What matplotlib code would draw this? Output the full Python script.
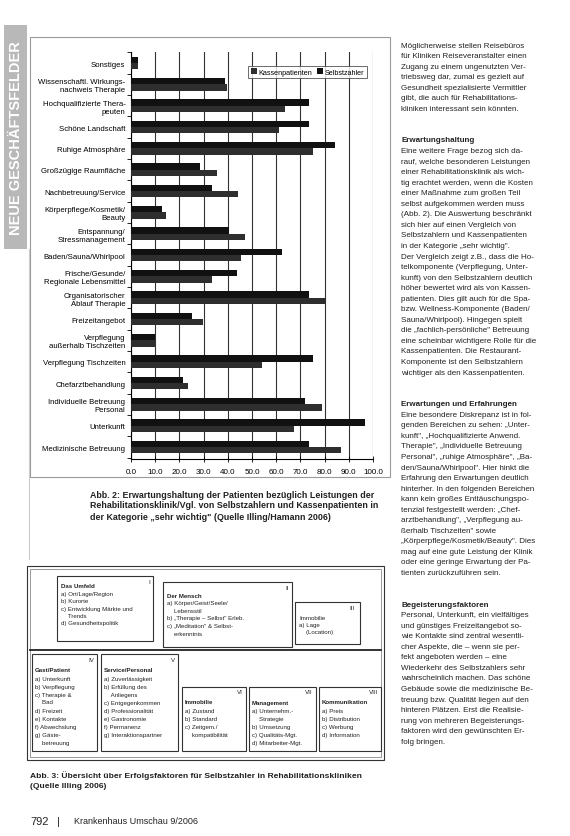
import numpy as np
import matplotlib
matplotlib.use("Agg")
import matplotlib.pyplot as plt
from matplotlib.patches import Rectangle

plt.rcParams['font.family'] = ['Liberation Sans', 'DejaVu Sans']

# chart data (Abb. 2), categories top to bottom, share "sehr wichtig" in %
categories = [
    "Sonstiges",
    "Wissenschaftl. Wirkungs-\nnachweis Therapie",
    "Hochqualifizierte Thera-\npeuten",
    "Schöne Landschaft",
    "Ruhige Atmosphäre",
    "Großzügige Raumfläche",
    "Nachbetreuung/Service",
    "Körperpflege/Kosmetik/\nBeauty",
    "Entspannung/\nStressmanagement",
    "Baden/Sauna/Whirlpool",
    "Frische/Gesunde/\nRegionale Lebensmittel",
    "Organisatorischer\nAblauf Therapie",
    "Freizeitangebot",
    "Verpflegung\naußerhalb Tischzeiten",
    "Verpflegung Tischzeiten",
    "Chefarztbehandlung",
    "Individuelle Betreuung\nPersonal",
    "Unterkunft",
    "Medizinische Betreuung",
]
selbstzahler = [3.0, 38.7, 73.7, 73.7, 84.4, 28.4, 33.3, 13.0, 40.7, 62.6,
                44.0, 73.7, 25.0, 10.0, 75.0, 21.5, 72.0, 96.7, 73.7]
kassen = [3.0, 39.5, 63.8, 61.3, 75.0, 35.4, 44.4, 14.4, 47.3, 45.3,
          33.3, 80.7, 29.6, 10.0, 54.0, 23.5, 79.0, 67.5, 86.8]
xticks = [0, 10, 20, 30, 40, 50, 60, 70, 80, 90, 100]

W, H = 570, 837
fig = plt.figure(figsize=(W / 100, H / 100), dpi=100)
fig.patch.set_facecolor('white')

# page overlay in pixel coords
pg = fig.add_axes([0, 0, 1, 1])
pg.set_xlim(0, W)
pg.set_ylim(H, 0)
pg.axis('off')

def box(x0, y0, x1, y1, lw=0.8, ec='#333333'):
    pg.add_patch(Rectangle((x0, y0), x1 - x0, y1 - y0, fill=False, lw=lw, ec=ec))

def txt(x, y, s, size=6.3, weight='normal', **kw):
    pg.text(x, y, s, fontsize=size, fontweight=weight, va='center', ha=kw.pop('ha', 'left'),
            color=kw.pop('color', '#222222'), **kw)

# side bar
pg.add_patch(Rectangle((4, 26), 23, 224, color='#b8b8b8', lw=0))
pg.text(16, 138, "NEUE GESCHÄFTSFELDER", rotation=90, color='white', fontsize=10.5,
        fontweight='bold', ha='center', va='center')
pg.plot([29, 29], [250, 560], color='#cccccc', lw=0.8)

# chart frame
box(30, 38, 390, 478, lw=0.8, ec='#9a9a9a')

# bar chart
ax = fig.add_axes([131 / W, 1 - 460 / H, 242 / W, 407 / H])
y = np.arange(len(categories))
bh = 0.3
ax.barh(y - bh / 2, selbstzahler, height=bh, color='#111111', label='Selbstzahler', zorder=3)
ax.barh(y + bh / 2, kassen, height=bh, color='#2e2e2e', label='Kassenpatienten', zorder=3)
ax.set_xlim(0, 100)
ax.set_ylim(18.56, -0.52)
ax.set_xticks(xticks)
ax.set_xticklabels([f"{v:.1f}" for v in xticks], fontsize=5.8)
ax.set_yticks(y)
ax.set_yticklabels(categories, fontsize=5.6, linespacing=1.2)
ax.set_yticks(np.arange(len(categories) + 1) - 0.5, minor=True)
ax.tick_params(axis='y', which='major', length=0, pad=4)
ax.tick_params(axis='y', which='minor', length=3, width=0.6)
ax.tick_params(axis='x', direction='inout', length=5, width=0.6, pad=4)
ax.grid(axis='x', color='#333333', lw=0.8, zorder=1)
for side in ['top', 'right']:
    ax.spines[side].set_visible(False)
ax.spines['left'].set_linewidth(0.8)
ax.spines['bottom'].set_linewidth(0.8)
h, l = ax.get_legend_handles_labels()
leg = ax.legend(h[::-1], l[::-1], loc='upper right', bbox_to_anchor=(0.99, 0.975), ncol=2,
                fontsize=5.2, frameon=True, fancybox=False, handlelength=0.8, handleheight=0.8,
                handletextpad=0.3, columnspacing=0.6, borderpad=0.35, edgecolor='#444444')
leg.get_frame().set_linewidth(0.7)

# caption Abb. 2
cap2 = ["Abb. 2: Erwartungshaltung der Patienten bezüglich Leistungen der",
        "Rehabilitationsklinik/Vgl. von Selbstzahlern und Kassenpatienten in",
        "der Kategorie „sehr wichtig\" (Quelle Illing/Hamann 2006)"]
for i, s in enumerate(cap2):
    txt(90, 495 + i * 11, s, size=6.4, weight='bold')

# diagram Abb. 3
box(27, 567, 384, 761, lw=0.8)
box(30, 570, 381, 758, lw=0.6, ec='#888888')
pg.plot([30, 381], [651, 651], color='#222222', lw=1.3)

fs = 4.4
# box I
box(57, 577, 153, 642)
txt(148, 582, "I", size=fs)
for i, s in enumerate(["Das Umfeld", "a) Ort/Lage/Region", "b) Kurorte",
                       "c) Entwicklung Märkte und", "    Trends", "d) Gesundheitspolitik"]):
    txt(61, 587 + i * 7.4, s, size=fs, weight='bold' if i == 0 else 'normal')
# box II
box(163, 583, 292, 648)
txt(285, 588, "II", size=fs)
for i, s in enumerate(["Der Mensch", "a) Körper/Geist/Seele/", "    Lebensstil",
                       "b) „Therapie – Selbst\" Erleb.", "c) „Meditation\" & Selbst-",
                       "    erkenntnis"]):
    txt(167, 596 + i * 7.6, s, size=fs, weight='bold' if i == 0 else 'normal')
# box III
box(295, 603, 360, 645)
txt(352, 608, "III", size=fs, ha='center')
for i, s in enumerate(["Immobilie", "a) Lage", "    (Location)"]):
    txt(299, 618 + i * 7.2, s, size=fs)

# lower boxes
lower = [
    (32, 655, 97, 752, "IV", 671, ["Gast/Patient", "a) Unterkunft", "b) Verpflegung", "c) Therapie &",
                                  "    Bad", "d) Freizeit", "e) Kontakte", "f) Abwechslung",
                                  "g) Gäste-", "    betreuung"]),
    (101, 655, 178, 752, "V", 671, ["Service/Personal", "a) Zuverlässigkeit", "b) Erfüllung des",
                                   "    Anliegens", "c) Entgegenkommen", "d) Professionalität",
                                   "e) Gastronomie", "f) Permanenz", "g) Interaktionspartner"]),
    (182, 688, 246, 752, "VI", 703, ["Immobilie", "a) Zustand", "b) Standard", "c) Zeitgem./",
                                    "    kompatibilität"]),
    (249, 688, 316, 752, "VII", 703, ["Management", "a) Unternehm.-", "    Strategie",
                                     "b) Umsetzung", "c) Qualitäts-Mgt.", "d) Mitarbeiter-Mgt."]),
    (319, 688, 381, 752, "VIII", 703, ["Kommunikation", "a) Preis", "b) Distribution",
                                      "c) Werbung", "d) Information"]),
]
for x0, y0, x1, y1, rom, ty, lines in lower:
    box(x0, y0, x1, y1)
    txt(x1 - 3, y0 + 5, rom, size=fs, ha='right')
    for i, s in enumerate(lines):
        txt(x0 + 3, ty + i * 8, s, size=fs, weight='bold' if i == 0 else 'normal')

cap3 = ["Abb. 3: Übersicht über Erfolgsfaktoren für Selbstzahler in Rehabilitationskliniken",
        "(Quelle Illing 2006)"]
for i, s in enumerate(cap3):
    txt(30, 776 + i * 11, s, size=6.1, weight='bold')

# footer
txt(30, 822, "792", size=8)
txt(57, 822, "|", size=8)
txt(74, 822, "Krankenhaus Umschau 9/2006", size=6.5)

# right column text
col = [
    ("Möglicherweise stellen Reisebüros", 0),
    ("für Kliniken Reiseveranstalter einen", 0),
    ("Zugang zu einem ungenutzten Ver-", 0),
    ("triebsweg dar, zumal es gezielt auf", 0),
    ("Gesundheit spezialisierte Vermittler", 0),
    ("gibt, die auch für Rehabilitations-", 0),
    ("kliniken interessant sein könnten.", 0),
    ("", 0),
    ("", 0),
    ("Erwartungshaltung", 1),
    ("Eine weitere Frage bezog sich da-", 0),
    ("rauf, welche besonderen Leistungen", 0),
    ("einer Rehabilitationsklinik als wich-", 0),
    ("tig erachtet werden, wenn die Kosten", 0),
    ("einer Maßnahme zum großen Teil", 0),
    ("selbst aufgekommen werden muss", 0),
    ("(Abb. 2). Die Auswertung beschränkt", 0),
    ("sich hier auf einen Vergleich von", 0),
    ("Selbstzahlern und Kassenpatienten", 0),
    ("in der Kategorie „sehr wichtig\".", 0),
    ("Der Vergleich zeigt z.B., dass die Ho-", 0),
    ("telkomponente (Verpflegung, Unter-", 0),
    ("kunft) von den Selbstzahlern deutlich", 0),
    ("höher bewertet wird als von Kassen-", 0),
    ("patienten. Dies gilt auch für die Spa-", 0),
    ("bzw. Wellness-Komponente (Baden/", 0),
    ("Sauna/Whirlpool). Hingegen spielt", 0),
    ("die „fachlich-persönliche\" Betreuung", 0),
    ("eine scheinbar wichtigere Rolle für die", 0),
    ("Kassenpatienten. Die Restaurant-", 0),
    ("Komponente ist den Selbstzahlern", 0),
    ("wichtiger als den Kassenpatienten.", 0),
    ("", 0),
    ("", 0),
    ("Erwartungen und Erfahrungen", 1),
    ("Eine besondere Diskrepanz ist in fol-", 0),
    ("genden Bereichen zu sehen: „Unter-", 0),
    ("kunft\", „Hochqualifizierte Anwend.", 0),
    ("Therapie\", „Individuelle Betreuung", 0),
    ("Personal\", „ruhige Atmosphäre\", „Ba-", 0),
    ("den/Sauna/Whirlpool\". Hier hinkt die", 0),
    ("Erfahrung den Erwartungen deutlich", 0),
    ("hinterher. In den folgenden Bereichen", 0),
    ("kann kein großes Enttäuschungspo-", 0),
    ("tenzial festgestellt werden: „Chef-", 0),
    ("arztbehandlung\", „Verpflegung au-", 0),
    ("ßerhalb Tischzeiten\" sowie", 0),
    ("„Körperpflege/Kosmetik/Beauty\". Dies", 0),
    ("mag auf eine gute Leistung der Klinik", 0),
    ("oder eine geringe Erwartung der Pa-", 0),
    ("tienten zurückzuführen sein.", 0),
    ("", 0),
    ("", 0),
    ("Begeisterungsfaktoren", 1),
    ("Personal, Unterkunft, ein vielfältiges", 0),
    ("und günstiges Freizeitangebot so-", 0),
    ("wie Kontakte sind zentral wesentli-", 0),
    ("cher Aspekte, die – wenn sie per-", 0),
    ("fekt angeboten werden – eine", 0),
    ("Wiederkehr des Selbstzahlers sehr", 0),
    ("wahrscheinlich machen. Das schöne", 0),
    ("Gebäude sowie die medizinische Be-", 0),
    ("treuung bzw. Qualität liegen auf den", 0),
    ("hinteren Plätzen. Erst die Realisie-", 0),
    ("rung von mehreren Begeisterungs-", 0),
    ("faktoren wird den gewünschten Er-", 0),
    ("folg bringen.", 0),
]
yy = 46.0
for s, bold in col:
    if s:
        txt(401, yy, s, size=5.8, weight='bold' if bold else 'normal')
    yy += 10.55

fig.savefig("out.png", dpi=100, facecolor='white')
